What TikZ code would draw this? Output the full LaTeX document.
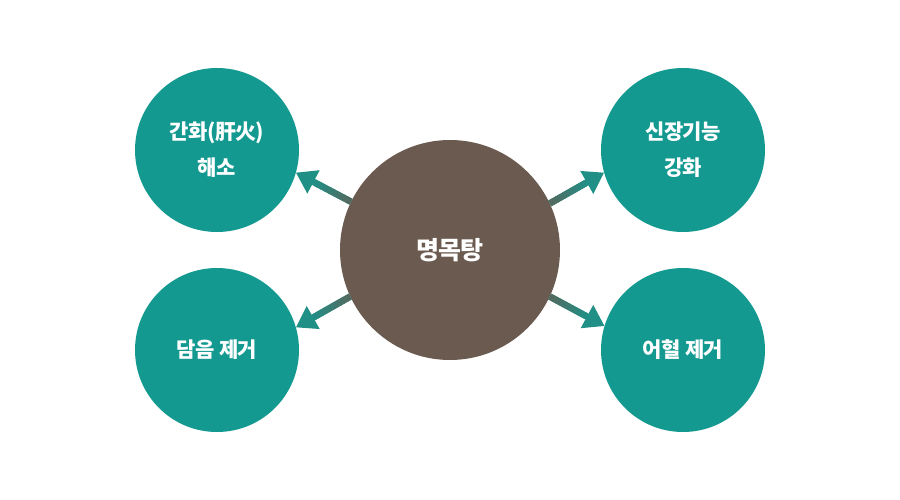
\documentclass[tikz,border=0pt]{standalone}
\usepackage{fontspec}
\setmainfont{Noto Sans CJK KR}[LetterSpace=-3]
\usetikzlibrary{arrows.meta,calc}
\definecolor{tealc}{HTML}{139990}
\definecolor{brownc}{HTML}{6A5A50}
\tikzset{
  small/.style={circle, fill=tealc, minimum size=164pt, inner sep=0pt, outer sep=0pt,
    text=white, font=\fontsize{21}{36}\selectfont\bfseries, align=center},
  big/.style={circle, fill=brownc, minimum size=220pt, inner sep=0pt, outer sep=0pt,
    text=white, font=\fontsize{25}{30}\selectfont\bfseries},
  arr/.style={line width=6.5pt, draw=tealc!85!brownc, -{Triangle[length=20pt,width=25pt]}},
}
\newcommand{\gradshaft}[2]{%
  \foreach \i in {0,...,9}{%
    \pgfmathsetmacro{\pa}{\i*0.065}%
    \pgfmathsetmacro{\pb}{(\i+1)*0.065+0.01}%
    \pgfmathsetmacro{\mixv}{int(75-\i*6)}%
    \draw[line width=6.5pt, draw=brownc!\mixv!tealc] ($(#1)!\pa!(#2)$) -- ($(#1)!\pb!(#2)$);
  }%
}
\begin{document}
\begin{tikzpicture}[x=1pt,y=-1pt]
\useasboundingbox[fill=white] (0,0) rectangle (900,500);
\node[small] (tl) at (217,150) {간화(肝火)\\해소};
\node[small] (bl) at (217,350) {담음 제거};
\node[small] (tr) at (683,150) {신장기능\\강화};
\node[small] (br) at (683,350) {어혈 제거};
\node[big] (c) at (450,250) {명목탕};
\coordinate (s1) at (c.154.4);
\coordinate (e1) at (tl.-16.7);
\coordinate (s2) at (c.205.6);
\coordinate (e2) at (bl.16.7);
\coordinate (s3) at (c.25.6);
\coordinate (e3) at (tr.196.7);
\coordinate (s4) at (c.-25.6);
\coordinate (e4) at (br.163.3);
\draw[arr] (s1) -- (e1);
\draw[arr] (s2) -- (e2);
\draw[arr] (s3) -- (e3);
\draw[arr] (s4) -- (e4);
\gradshaft{s1}{e1}
\gradshaft{s2}{e2}
\gradshaft{s3}{e3}
\gradshaft{s4}{e4}
\end{tikzpicture}
\end{document}
